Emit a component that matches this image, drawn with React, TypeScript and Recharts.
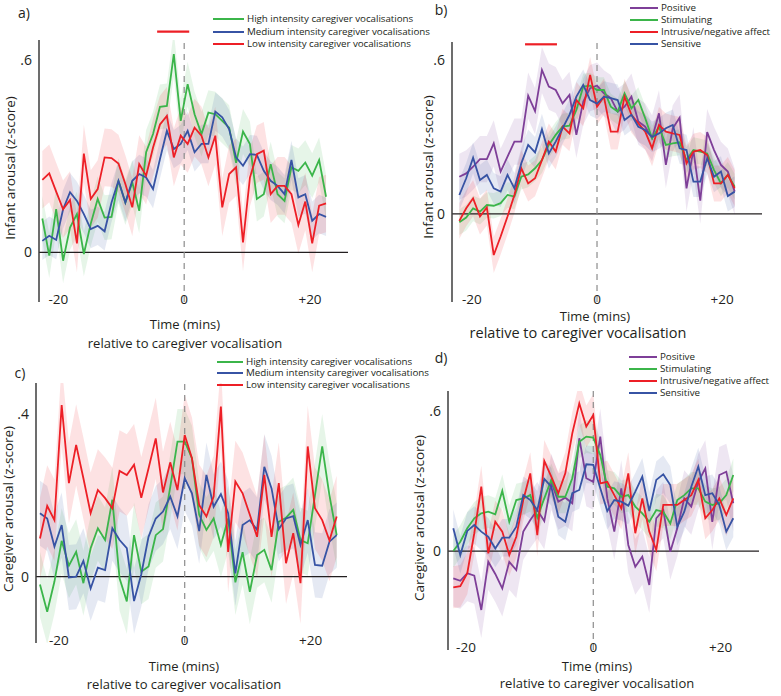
import React from "react";
import { ComposedChart, Line, Area, XAxis, YAxis, ReferenceLine } from "recharts";

const FONT = "'Open Sans', 'Noto Sans', sans-serif";
const INK = "#231f20";
const GREEN = "#3bb54a";
const BLUE = "#3753a4";
const RED = "#ed1f26";
const PURPLE = "#7e3f98";

// time bins (mins relative to caregiver vocalisation)
const timeA = [-22.55, -21.45, -20.35, -19.25, -18.15, -17.05, -15.95, -14.85, -13.75, -12.65, -11.55, -10.45, -9.35, -8.25, -7.15, -6.05, -4.95, -3.85, -2.75, -1.65, -0.55, 0.55, 1.65, 2.75, 3.85, 4.95, 6.05, 7.15, 8.25, 9.35, 10.45, 11.55, 12.65, 13.75, 14.85, 15.95, 17.05, 18.15, 19.25, 20.35, 21.45, 22.55];
const timeB = [-22, -20.9, -19.8, -18.7, -17.6, -16.5, -15.4, -14.3, -13.2, -12.1, -11, -9.9, -8.8, -7.7, -6.6, -5.5, -4.4, -3.3, -2.2, -1.1, 0, 1.1, 2.2, 3.3, 4.4, 5.5, 6.6, 7.7, 8.8, 9.9, 11, 12.1, 13.2, 14.3, 15.4, 16.5, 17.6, 18.7, 19.8, 20.9, 22];
const timeC = [-23, -21.85, -20.7, -19.55, -18.4, -17.25, -16.1, -14.95, -13.8, -12.65, -11.5, -10.35, -9.2, -8.05, -6.9, -5.75, -4.6, -3.45, -2.3, -1.15, 0, 1.15, 2.3, 3.45, 4.6, 5.75, 6.9, 8.05, 9.2, 10.35, 11.5, 12.65, 13.8, 14.95, 16.1, 17.25, 18.4, 19.55, 20.7, 21.85, 23, 24.15];
const timeD = timeB;

// a) infant arousal by caregiver vocal intensity
const aHigh = [0.106, -0.01, 0.135, -0.026, 0.078, 0.12, -0.005, 0.09, 0.167, 0.109, 0.111, 0.224, 0.156, 0.219, 0.13, 0.313, 0.37, 0.455, 0.458, 0.62, 0.411, 0.526, 0.432, 0.37, 0.437, 0.432, 0.411, 0.39, 0.28, 0.378, 0.339, 0.167, 0.182, 0.276, 0.182, 0.161, 0.266, 0.255, 0.281, 0.24, 0.289, 0.174];
const aMedium = [0.036, 0.052, 0.039, 0.135, 0.188, 0.161, 0.12, 0.073, 0.083, 0.066, 0.156, 0.224, 0.156, 0.224, 0.245, 0.234, 0.198, 0.292, 0.38, 0.323, 0.339, 0.38, 0.313, 0.339, 0.339, 0.44, 0.422, 0.385, 0.297, 0.271, 0.307, 0.305, 0.255, 0.224, 0.208, 0.182, 0.289, 0.172, 0.182, 0.099, 0.12, 0.111];
const aLow = [0.227, 0.247, 0.19, 0.135, 0.164, 0.028, 0.309, 0.167, 0.198, 0.297, 0.295, 0.278, 0.214, 0.141, 0.276, 0.24, 0.328, 0.4, 0.427, 0.297, 0.365, 0.339, 0.39, 0.365, 0.297, 0.365, 0.141, 0.245, 0.266, 0.031, 0.234, 0.307, 0.318, 0.182, 0.208, 0.208, 0.182, 0.086, 0.159, 0.028, 0.146, 0.153];
const seA = [0.07, 0.06, 0.09];

// b) infant arousal by caregiver vocal affect
const bPositive = [0.145, 0.158, 0.184, 0.214, 0.214, 0.275, 0.165, 0.223, 0.282, 0.282, 0.461, 0.401, 0.561, 0.496, 0.483, 0.431, 0.464, 0.308, 0.438, 0.49, 0.5, 0.47, 0.451, 0.399, 0.418, 0.457, 0.36, 0.34, 0.295, 0.392, 0.191, 0.334, 0.375, 0.1, 0.249, 0.052, 0.319, 0.249, 0.191, 0.165, 0.087];
const bStimulating = [-0.032, -0.014, 0.022, 0.009, 0.035, 0.032, 0.042, 0.074, 0.068, 0.145, 0.154, 0.178, 0.21, 0.269, 0.308, 0.34, 0.344, 0.405, 0.496, 0.5, 0.483, 0.483, 0.418, 0.399, 0.47, 0.412, 0.444, 0.373, 0.295, 0.34, 0.269, 0.275, 0.279, 0.21, 0.249, 0.243, 0.236, 0.171, 0.119, 0.152, 0.106];
const bIntrusive = [-0.027, 0.022, 0.061, -0.01, 0.025, -0.16, -0.088, -0.01, 0.074, 0.178, 0.119, 0.139, 0.21, 0.282, 0.243, 0.34, 0.314, 0.444, 0.412, 0.542, 0.418, 0.457, 0.321, 0.321, 0.457, 0.386, 0.353, 0.321, 0.256, 0.347, 0.321, 0.314, 0.308, 0.197, 0.243, 0.249, 0.23, 0.119, 0.119, 0.152, 0.1];
const bSensitive = [0.074, 0.139, 0.219, 0.132, 0.152, 0.1, 0.087, 0.152, 0.1, 0.197, 0.269, 0.24, 0.33, 0.236, 0.282, 0.334, 0.386, 0.457, 0.503, 0.444, 0.43, 0.457, 0.451, 0.444, 0.366, 0.386, 0.34, 0.327, 0.3, 0.314, 0.334, 0.347, 0.256, 0.249, 0.126, 0.126, 0.217, 0.145, 0.165, 0.07, 0.087];
const seB = [0.09, 0.05, 0.07, 0.06];

// c) caregiver arousal by caregiver vocal intensity
const cHigh = [-0.019, -0.086, -0.012, 0.088, 0.027, 0.061, -0.016, 0.07, 0.119, 0.09, 0.189, -0.004, -0.061, 0.102, 0.012, 0.025, 0.102, 0.117, 0.22, 0.332, 0.332, 0.291, 0.152, 0.115, 0.143, 0.078, 0.143, -0.014, 0.06, -0.037, 0.053, 0.066, 0.016, 0.135, 0.145, 0.164, 0.09, 0.082, 0.2, 0.32, 0.2, 0.102];
const cMedium = [0.156, 0.143, 0.074, 0.127, -0.002, 0, 0.039, -0.029, 0.022, 0.016, 0.119, 0.09, 0.07, -0.06, 0.006, 0.098, 0.143, 0.16, 0.197, 0.148, 0.242, 0.205, 0.112, 0.25, 0.172, 0.203, 0.156, 0.008, 0.127, 0.139, 0.115, 0.27, 0.217, 0.117, 0.143, 0.149, 0.078, 0.139, 0.029, 0.027, 0.086, 0.102];
const cLow = [0.094, 0.174, 0.139, 0.422, 0.23, 0.324, 0.242, 0.156, 0.213, 0.193, 0.168, 0.26, 0.25, 0.275, 0.194, 0.266, 0.34, 0.207, 0.281, 0.213, 0.348, 0.291, 0.176, 0.148, 0.197, 0.418, 0.061, 0.234, 0.205, 0.152, 0.098, 0.25, 0.098, 0.23, 0.033, 0.107, -0.016, 0.32, 0.168, 0.139, 0.089, 0.148];
const seC = [0.08, 0.08, 0.1];

// d) caregiver arousal by caregiver vocal affect
const dPositive = [-0.117, -0.127, -0.095, -0.105, -0.252, -0.046, -0.098, -0.16, -0.046, -0.081, 0.083, 0.133, 0.175, 0.128, 0.296, 0.211, 0.228, 0.204, 0.482, 0.311, 0.296, 0.489, 0.225, 0.083, 0.268, 0.026, -0.067, -0.024, -0.145, 0.14, 0.175, -0.003, 0.097, 0.225, 0.19, 0.296, 0.353, 0.125, 0.325, 0.339, 0.204];
const dStimulating = [0, 0.04, 0.097, 0.14, 0.161, 0.168, 0.157, 0.257, 0.125, 0.218, 0.225, 0.239, 0.143, 0.225, 0.304, 0.232, 0.232, 0.311, 0.467, 0.489, 0.485, 0.41, 0.275, 0.268, 0.232, 0.239, 0.19, 0.161, 0.125, 0.175, 0.168, 0.118, 0.218, 0.239, 0.268, 0.268, 0.211, 0.197, 0.204, 0.239, 0.325];
const dIntrusive = [-0.155, -0.15, -0.095, 0.076, 0.275, -0.01, 0.125, 0.083, -0.017, 0.061, 0.218, 0.332, 0.068, 0.385, 0.318, 0.247, 0.332, 0.503, 0.631, 0.532, 0.581, 0.289, 0.296, 0.239, 0.182, 0.332, 0.076, 0.225, 0.083, 0.004, 0.197, 0.197, 0.197, 0.218, 0.239, 0.304, 0.14, 0.175, 0.225, 0.154, 0.225];
const dSensitive = [0.097, -0.017, 0.086, 0.111, 0.083, 0.061, 0.011, 0.057, 0.057, 0.104, 0.239, 0.218, 0.175, 0.308, 0.275, 0.147, 0.125, 0.247, 0.261, 0.371, 0.368, 0.268, 0.171, 0.218, 0.211, 0.194, 0.254, 0.318, 0.171, 0.304, 0.328, 0.282, 0.104, 0.168, 0.275, 0.361, 0.239, 0.247, 0.197, 0.083, 0.14];
const seD = [0.12, 0.07, 0.09, 0.08];

// significance bars (start, end mins; level)
const sigA = { x: [-4.3, 0.8], y: 0.69 };
const sigB = { x: [-11.5, -6.4], y: 0.661 };

const intensityLabels = [
  "High intensity caregiver vocalisations",
  "Medium intensity caregiver vocalisations",
  "Low intensity caregiver vocalisations",
];
const affectLabels = ["Positive", "Stimulating", "Intrusive/negative affect", "Sensitive"];

type Series = { key: string; label: string; color: string; values: number[]; se: number };

const seriesA: Series[] = [
  { key: "high", label: intensityLabels[0], color: GREEN, values: aHigh, se: seA[0] },
  { key: "medium", label: intensityLabels[1], color: BLUE, values: aMedium, se: seA[1] },
  { key: "low", label: intensityLabels[2], color: RED, values: aLow, se: seA[2] },
];
const seriesB: Series[] = [
  { key: "positive", label: affectLabels[0], color: PURPLE, values: bPositive, se: seB[0] },
  { key: "stimulating", label: affectLabels[1], color: GREEN, values: bStimulating, se: seB[1] },
  { key: "intrusive", label: affectLabels[2], color: RED, values: bIntrusive, se: seB[2] },
  { key: "sensitive", label: affectLabels[3], color: BLUE, values: bSensitive, se: seB[3] },
];
const seriesC: Series[] = [
  { key: "high", label: intensityLabels[0], color: GREEN, values: cHigh, se: seC[0] },
  { key: "medium", label: intensityLabels[1], color: BLUE, values: cMedium, se: seC[1] },
  { key: "low", label: intensityLabels[2], color: RED, values: cLow, se: seC[2] },
];
const seriesD: Series[] = [
  { key: "positive", label: affectLabels[0], color: PURPLE, values: dPositive, se: seD[0] },
  { key: "stimulating", label: affectLabels[1], color: GREEN, values: dStimulating, se: seD[1] },
  { key: "intrusive", label: affectLabels[2], color: RED, values: dIntrusive, se: seD[2] },
  { key: "sensitive", label: affectLabels[3], color: BLUE, values: dSensitive, se: seD[3] },
];

const YW = 40;
const XH = 20;
const MT = 16;

const XTick = (props: any) => {
  const { x, y, payload } = props;
  const v = payload.value;
  const label = v > 0 ? `+${v}` : `${v}`;
  return (
    <text x={x} y={y + 1.5} textAnchor="middle" fontSize={13.5} fontFamily={FONT} fill={INK}>
      {label}
    </text>
  );
};

const YTick = (props: any) => {
  const { x, y, payload } = props;
  const label = payload.value === 0 ? "0" : String(payload.value).replace(/^0/, "");
  return (
    <text x={x - 7} y={y + 5} textAnchor="end" fontSize={14} fontFamily={FONT} fill={INK}>
      {label}
    </text>
  );
};

type PanelProps = {
  time: number[];
  series: Series[];
  left: number;
  top: number;
  width: number;
  height: number;
  xDomain: [number, number];
  yDomain: [number, number];
  yTicks: number[];
  sig?: { x: number[]; y: number };
};

function Panel(p: PanelProps) {
  const rows = p.time.map((t, i) => {
    const row: Record<string, any> = { t };
    p.series.forEach((s) => {
      row[s.key] = s.values[i];
      row[s.key + "Band"] = [s.values[i] - s.se, s.values[i] + s.se];
    });
    return row;
  });
  return (
    <div style={{ position: "absolute", left: p.left - YW, top: p.top - MT }}>
      <ComposedChart
        width={YW + p.width}
        height={MT + p.height + XH}
        data={rows}
        margin={{ top: MT, right: 0, bottom: 0, left: 0 }}
      >
        <XAxis
          type="number"
          dataKey="t"
          domain={p.xDomain}
          allowDataOverflow
          ticks={[-20, 0, 20]}
          interval={0}
          axisLine={false}
          tickLine={false}
          tickSize={0}
          tickMargin={0}
          height={XH}
          tick={<XTick />}
        />
        <YAxis
          type="number"
          domain={p.yDomain}
          allowDataOverflow
          ticks={p.yTicks}
          interval={0}
          axisLine={{ stroke: "#3c3c3c", strokeWidth: 1.5 }}
          tickLine={false}
          tickSize={0}
          tickMargin={0}
          width={YW}
          tick={<YTick />}
        />
        {p.series.map((s) => (
          <Area
            key={s.key + "Band"}
            dataKey={s.key + "Band"}
            stroke="none"
            fill={s.color}
            fillOpacity={0.13}
            isAnimationActive={false}
          />
        ))}
        <ReferenceLine y={0} stroke={INK} strokeWidth={1.2} />
        <ReferenceLine x={0} stroke="#8c8c8c" strokeDasharray="6 5" strokeWidth={1.2} />
        {p.series.map((s) => (
          <Line
            key={s.key}
            type="linear"
            dataKey={s.key}
            stroke={s.color}
            strokeWidth={1.8}
            dot={false}
            isAnimationActive={false}
          />
        ))}
        {p.sig && (
          <ReferenceLine
            segment={[
              { x: p.sig.x[0], y: p.sig.y },
              { x: p.sig.x[1], y: p.sig.y },
            ]}
            stroke={RED}
            strokeWidth={2.2}
            ifOverflow="visible"
          />
        )}
      </ComposedChart>
    </div>
  );
}

function Txt({ x, y, size = 13, anchor = "middle", rotate = false, spacing = 0, children }: any) {
  const tx = anchor === "middle" ? "-50%" : "0";
  return (
    <div
      style={{
        position: "absolute",
        left: x,
        top: y,
        fontFamily: FONT,
        fontSize: size,
        letterSpacing: spacing,
        color: INK,
        whiteSpace: "nowrap",
        lineHeight: 1,
        transformOrigin: "0 0",
        transform: rotate ? "rotate(-90deg) translate(-50%, -50%)" : `translate(${tx}, -50%)`,
      }}
    >
      {children}
    </div>
  );
}

function Legend({ x, lineW, textX, ys, series }: { x: number; lineW: number; textX: number; ys: number[]; series: Series[] }) {
  return (
    <>
      {series.map((s, i) => (
        <React.Fragment key={s.key}>
          <div
            style={{
              position: "absolute",
              left: x,
              top: ys[i] - 1,
              width: lineW,
              height: 2,
              background: s.color,
            }}
          />
          <Txt x={textX} y={ys[i]} size={9.8} spacing={-0.05} anchor="start">
            {s.label}
          </Txt>
        </React.Fragment>
      ))}
    </>
  );
}

export default function App() {
  return (
    <div style={{ position: "absolute", left: 0, top: 0, width: 781, height: 696, background: "#fff", overflow: "hidden" }}>
      <Panel time={timeA} series={seriesA} left={39} top={40} width={309} height={262} xDomain={[-23.08, 26.04]} yDomain={[-0.155, 0.664]} yTicks={[0, 0.6]} sig={sigA} />
      <Panel time={timeB} series={seriesB} left={452} top={42} width={310} height={260} xDomain={[-23.17, 26.36]} yDomain={[-0.343, 0.67]} yTicks={[0, 0.6]} sig={sigB} />
      <Panel time={timeC} series={seriesC} left={36} top={383} width={311} height={260} xDomain={[-23.63, 25.79]} yDomain={[-0.163, 0.476]} yTicks={[0, 0.4]} />
      <Panel time={timeD} series={seriesD} left={448} top={391} width={311} height={259} xDomain={[-22.83, 26.04]} yDomain={[-0.423, 0.684]} yTicks={[0, 0.6]} />

      <Txt x={24} y={13} size={14}>a)</Txt>
      <Txt x={441} y={10} size={14}>b)</Txt>
      <Txt x={20} y={373} size={14}>c)</Txt>
      <Txt x={441} y={358} size={14}>d)</Txt>

      <Txt x={10.7} y={168} size={13.5} rotate>Infant arousal (z-score)</Txt>
      <Txt x={429.3} y={167} size={13.5} rotate>Infant arousal (z-score)</Txt>
      <Txt x={9.3} y={509} size={13.5} rotate>Caregiver arousal (z-score)</Txt>
      <Txt x={420} y={518} size={13.5} rotate>Caregiver arousal (z-score)</Txt>

      <Txt x={185} y={324}>Time (mins)</Txt>
      <Txt x={185} y={343}>relative to caregiver vocalisation</Txt>
      <Txt x={595} y={315.5}>Time (mins)</Txt>
      <Txt x={578} y={333} size={14.5}>relative to caregiver vocalisation</Txt>
      <Txt x={184} y={666}>Time (mins)</Txt>
      <Txt x={184} y={684}>relative to caregiver vocalisation</Txt>
      <Txt x={597} y={666}>Time (mins)</Txt>
      <Txt x={597} y={683}>relative to caregiver vocalisation</Txt>

      <Legend x={213} lineW={31} textX={247} ys={[19.3, 31.7, 44]} series={seriesA} />
      <Legend x={630} lineW={28} textX={661} ys={[7.5, 20, 32.3, 44.3]} series={seriesB} />
      <Legend x={217} lineW={26} textX={246} ys={[361.7, 373.3, 385]} series={seriesC} />
      <Legend x={629} lineW={28} textX={660} ys={[357.3, 369.3, 381, 393.3]} series={seriesD} />
    </div>
  );
}
